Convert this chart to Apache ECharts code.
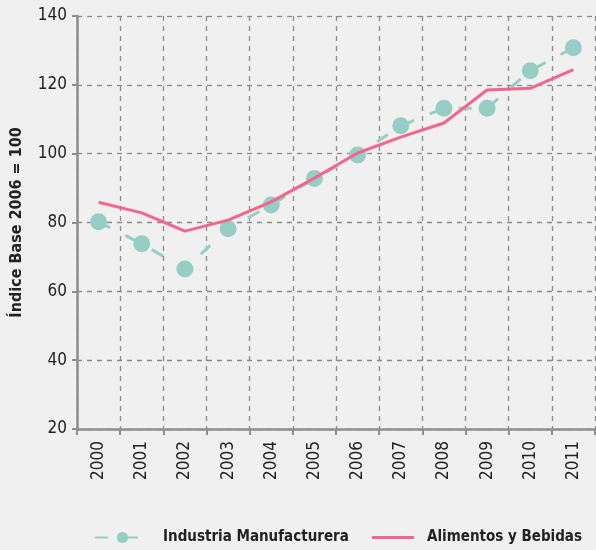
<!DOCTYPE html>
<html>
<head>
<meta charset="utf-8">
<script src="https://cdn.jsdelivr.net/npm/echarts@6/dist/echarts.min.js"></script>
<style>
  html, body { margin: 0; padding: 0; background: #f0f0f0; }
  #main { width: 596px; height: 550px; }
</style>
</head>
<body>
<div id="main"></div>
<script>
const years = ["2000", "2001", "2002", "2003", "2004", "2005", "2006", "2007", "2008", "2009", "2010", "2011"];
const industria = [80.2, 73.8, 66.5, 78.2, 85.1, 92.8, 99.6, 108.1, 113.2, 113.2, 124.1, 130.8];
const alimentos = [85.9, 82.8, 77.5, 80.7, 86.0, 92.9, 100.2, 104.8, 108.9, 118.5, 119.0, 124.4];
const yTicks = { min: 20, max: 140, interval: 20 };

const fontFam = "'DejaVu Sans Condensed', 'Liberation Sans Narrow', sans-serif";
const teal = "#96cec4";
const pink = "#f2668b";
const axisGray = "#8e8e8e";
const legendText = { fontFamily: fontFam, fontSize: 15, fontWeight: "bold", color: "#222", padding: [0, 0, 0, 8] };

let chart = echarts.init(document.getElementById("main"));
let option = {
  backgroundColor: "#f0f0f0",
  textStyle: { fontFamily: fontFam },
  grid: { left: 77, right: 1, top: 16, bottom: 121, containLabel: false },
  legend: [
    {
      bottom: 0,
      left: 89,
      itemWidth: 55,
      itemHeight: 14,
      textStyle: legendText,
      data: ["Industria Manufacturera"]
    },
    {
      bottom: 0,
      left: 367,
      itemWidth: 42,
      itemHeight: 14,
      textStyle: legendText,
      data: [{ name: "Alimentos y Bebidas", icon: "path://M0,0 L40,0 L40,3 L0,3 Z" }]
    }
  ],
  xAxis: {
    type: "category",
    data: years,
    boundaryGap: true,
    axisLine: { lineStyle: { color: axisGray, width: 2.5 } },
    axisTick: { show: true, alignWithLabel: false, length: 6, lineStyle: { color: axisGray, width: 2 } },
    axisLabel: { rotate: 90, fontSize: 17, color: "#222", margin: 12, fontFamily: fontFam },
    splitLine: { show: true, lineStyle: { color: "#8a8a8a", type: [5, 5], width: 1.3 } }
  },
  yAxis: {
    type: "value",
    min: yTicks.min,
    max: yTicks.max,
    interval: yTicks.interval,
    name: "Índice Base 2006 = 100",
    nameLocation: "middle",
    nameGap: 52,
    nameTextStyle: { fontSize: 16, fontWeight: "bold", color: "#222", fontFamily: fontFam },
    axisLine: { show: true, lineStyle: { color: axisGray, width: 2.5 } },
    axisTick: { show: true, length: 5, lineStyle: { color: axisGray, width: 2 } },
    axisLabel: { fontSize: 17, color: "#222", margin: 10, fontFamily: fontFam },
    splitLine: { show: true, lineStyle: { color: "#8a8a8a", type: [5, 5], width: 1.3 } }
  },
  series: [
    {
      name: "Industria Manufacturera",
      type: "line",
      data: industria,
      symbol: "circle",
      symbolSize: 17,
      itemStyle: { color: teal },
      lineStyle: { color: teal, width: 3, type: [13, 17] },
      z: 2
    },
    {
      name: "Alimentos y Bebidas",
      type: "line",
      data: alimentos,
      symbol: "none",
      itemStyle: { color: pink },
      lineStyle: { color: pink, width: 3 },
      z: 3
    }
  ]
};
chart.setOption(option);
window.addEventListener("resize", chart.resize);
</script>
</body>
</html>
